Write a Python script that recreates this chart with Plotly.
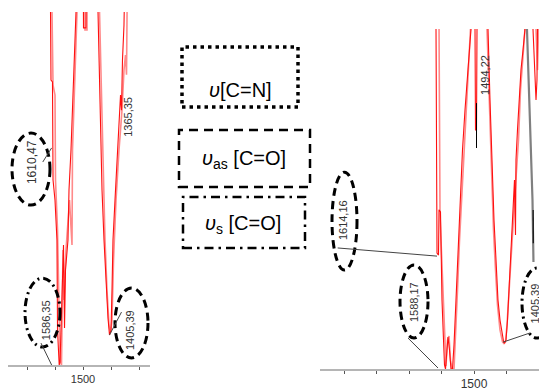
import plotly.graph_objects as go

# ---------------- data (wavenumber cm-1, relative transmittance) ----------------
# left spectrum
left_red_wn = [1771, 1618, 1616, 1614.3, 1609, 1607, 1600, 1593, 1591, 1587.5, 1585, 1582, 1578.6, 1573.2,
               1569.6, 1566, 1562.5, 1553.6, 1550, 1542.9, 1535.7, 1528.6, 1525, 1521.4, 1500, 1498.2,
               1489.3, 1487.5, 1448.2, 1446.4, 1442.9, 1437.5, 1432.1, 1425, 1417.9, 1410.7, 1405.4,
               1400, 1396.4, 1392.9, 1385.7, 1378.6, 1371.4, 1366, 1362.5, 1359, 1353.6, 1352, 1346.4, 1260]
left_red_t = [130, 130, 100, 80.7, 80.2, 52.4, 46.7, 35.4, 9.9, 0.6, 0, 0.8, 9.9, 18.4,
              34, 10.5, 26.9, 35.4, 49.6, 60.9, 77.9, 92, 100, 130, 130, 95.5,
              95.5, 130, 130, 100, 86.4, 66.6, 49.6, 35.4, 22.7, 13.3, 8.5,
              9.9, 21.2, 35.4, 46.7, 56.7, 66.6, 76.5, 72.2, 86.4, 96.3, 100, 130, 130]

left_pale_wn = [1771, 1612.5, 1610.7, 1607, 1600, 1598.2, 1591, 1585.7, 1582, 1576.8, 1575, 1571.4, 1567.9,
                1560.7, 1548.2, 1539.3, 1537.5, 1530.4, 1521.4, 1517.9, 1494.6, 1492.9, 1485.7, 1483.9,
                1442.9, 1441, 1435.7, 1428.6, 1421.4, 1414.3, 1407.1, 1401.8, 1396.4, 1391, 1382.1,
                1371.4, 1360.7, 1353.6, 1348.2, 1344.6, 1341, 1339.3, 1260]
left_pale_t = [130, 130, 100, 79.3, 76.5, 52.4, 38.2, 9.9, 1.4, 0, 9.9, 32.6, 18.4,
               32.6, 46.7, 34, 60.9, 80.7, 100, 130, 130, 94.9, 94.9, 130,
               130, 100, 80.7, 55.2, 35.4, 21.2, 11.3, 9.1, 12.7, 29.7, 46.7,
               60.9, 72.2, 83.6, 87.8, 82.2, 97.7, 130, 130]

# right spectrum
right_red_wn = [2050, 1617, 1616.9, 1615.4, 1613.8, 1609.2, 1607.7, 1603.1, 1601.5, 1598.5, 1593.8, 1590.8,
                1587.7, 1583.1, 1580, 1575.4, 1570.8, 1566.2, 1561.5, 1555.4, 1549.2, 1543.1, 1535.4,
                1527.7, 1521.5, 1515.4, 1509.2, 1507.7, 1498.5, 1496.9, 1495.4, 1492.3, 1490.8, 1489.2,
                1458.5, 1456.9, 1450.8, 1444.6, 1438.5, 1432.3, 1426.2, 1420, 1413.8, 1409.2, 1406.2,
                1401.5, 1396.9, 1392.3, 1386.2, 1380, 1375.4, 1372.3, 1370.8, 1366.2, 1361.5, 1355.4,
                1349.2, 1343.1, 1341.5, 1320, 1318.5, 1312.3, 1309.2, 1306.2, 1303.1, 1301.5, 1286.2,
                1284.6, 1283.1, 1281.5, 1280, 1275]
right_red_t = [130, 130, 100, 65.9, 34.1, 33.5, 46.8, 46.2, 32.1, 20.3, 8.5, 1.2,
               0, 7.1, 9.4, 5.6, 0, 0, 7.1, 20.3, 35, 49.7, 64.4,
               76.2, 85, 93.8, 100, 130, 130, 100, 70.3, 70.3, 100, 130,
               130, 100, 79.1, 58.5, 43.8, 32.1, 20.3, 14.4, 10, 8.2, 7.6,
               8.5, 14.4, 23.2, 35, 46.8, 55.6, 39.4, 61.5, 70.3, 79.1, 88,
               93.8, 100, 130, 130, 100, 85, 79.1, 85, 100, 130, 130,
               100, 94.7, 100, 130, 130]

right_pale_wn = [2050, 1609.2, 1604.6, 1598.5, 1592.3, 1586.2, 1581.5, 1576.9, 1572.3, 1567.7, 1561.5,
                 1556.9, 1550.8, 1544.6, 1536.9, 1529.2, 1523.1, 1516.9, 1510.8, 1509.2, 1461.5, 1460,
                 1452.3, 1446.2, 1440, 1433.8, 1427.7, 1420, 1412.3, 1407.7, 1403.1, 1398.5, 1392.3,
                 1384.6, 1376.9, 1369.2, 1363.1, 1356.9, 1350.8, 1346.2, 1343.1, 1341.5, 1310.8,
                 1309.2, 1304.6, 1301.5, 1300, 1275]
right_pale_t = [130, 130, 45.3, 30.6, 11.5, 0.9, 8.5, 9.7, 2.6, 0, 0,
                8.5, 23.2, 37.9, 52.6, 67.3, 79.1, 88, 100, 130, 130, 100,
                76.2, 55.6, 40.9, 29.1, 18.8, 11.5, 8, 7.5, 8, 12.9, 21.8,
                33.5, 46.8, 58.5, 67.3, 82.1, 90.9, 96.8, 100, 130, 130,
                100, 87.9, 100, 130, 130]

right_grey_wn = [1337, 1330.8, 1324.6, 1320, 1317]
right_grey_t = [100, 79.1, 58.5, 49.7, 31.5]
right_black_wn = [1318, 1317.5]
right_black_t = [46.8, 37]

left_ticks = [1300, 1400, 1500, 1600, 1700]
right_ticks = [1300, 1400, 1500, 1600, 1700, 1800, 1900]
labelled_ticks = [1500]

# peak labels: (text, wn, t, font size)
left_labels = [("1610,47", 1682, 57.5, 12), ("1365,35", 1339.3, 70.3, 11),
               ("1586,35", 1632, 12.7, 11), ("1405,39", 1332, 9.9, 11)]
right_labels = [("1614,16", 1903, 43.8, 11), ("1588,17", 1684.6, 19.7, 11),
                ("1405,39", 1311, 19.4, 11), ("1494,22", 1466.2, 86.5, 11)]

# ellipses: (wn0, wn1, t0, t1, dash)
DASH = "8px,5px"
DASHDOT = "8px,4px,2px,4px"
left_ellipses = [(1753.6, 1617.9, 45.3, 65.7, DASH), (1707.1, 1582.1, 5.1, 24.6, DASHDOT),
                 (1385.7, 1267.9, 2.0, 21.8, DASH)]
right_ellipses = [(1936.9, 1860, 29.1, 57.9, DASH), (1727.7, 1641.5, 9.1, 30.6, DASH),
                  (1352.3, 1260, 9.1, 29.7, DASHDOT)]

# leader lines: (wn0, t0, wn1, t1)
left_leaders = [(1643.7, 57.5, 1612, 61.5), (1650, 6.2, 1612, 0), (1405.4, 8.5, 1362.5, 15)]
right_leaders = [(1919.4, 35.6, 1613.8, 33.2), (1703.1, 9.1, 1610.8, 0.3), (1410.8, 7.9, 1327.7, 10.6)]

# page body has an 8px margin: the figure starts at (8, 8) of the window
OFF = 8
W, H = 547 - OFF, 391 - OFF


def px(x):
    return (x - OFF) / W


def py(y):
    return 1 - (y - OFF) / H


fig = go.Figure()

fig.add_trace(go.Scatter(x=left_pale_wn, y=left_pale_t, mode="lines",
                         line=dict(color="#ff8a8a", width=1.6), xaxis="x", yaxis="y"))
fig.add_trace(go.Scatter(x=left_red_wn, y=left_red_t, mode="lines",
                         line=dict(color="#ff1010", width=1.1), xaxis="x", yaxis="y"))
fig.add_trace(go.Scatter(x=right_pale_wn, y=right_pale_t, mode="lines",
                         line=dict(color="#ff8a8a", width=1.6), xaxis="x2", yaxis="y2"))
fig.add_trace(go.Scatter(x=right_red_wn, y=right_red_t, mode="lines",
                         line=dict(color="#ff1010", width=1.1), xaxis="x2", yaxis="y2"))
fig.add_trace(go.Scatter(x=right_grey_wn, y=right_grey_t, mode="lines",
                         line=dict(color="#808080", width=2.2), xaxis="x2", yaxis="y2"))
fig.add_trace(go.Scatter(x=right_black_wn, y=right_black_t, mode="lines",
                         line=dict(color="#111111", width=1.2), xaxis="x2", yaxis="y2"))
# 1494 marker
fig.add_trace(go.Scatter(x=[1492.3, 1492.3], y=[78.2, 65], mode="lines",
                         line=dict(color="#000000", width=1), xaxis="x2", yaxis="y2"))

shapes = []
for (a, b, c, d, dash) in left_ellipses:
    shapes.append(dict(type="circle", xref="x", yref="y", x0=a, x1=b, y0=c, y1=d,
                       line=dict(color="black", width=3, dash=dash)))
for (a, b, c, d, dash) in right_ellipses:
    shapes.append(dict(type="circle", xref="x2", yref="y2", x0=a, x1=b, y0=c, y1=d,
                       line=dict(color="black", width=3, dash=dash)))
for (a, b, c, d) in left_leaders:
    shapes.append(dict(type="line", xref="x", yref="y", x0=a, y0=b, x1=c, y1=d,
                       line=dict(color="#444", width=1)))
for (a, b, c, d) in right_leaders:
    shapes.append(dict(type="line", xref="x2", yref="y2", x0=a, y0=b, x1=c, y1=d,
                       line=dict(color="#444", width=1)))

# legend boxes
shapes.append(dict(type="rect", xref="paper", yref="paper", x0=px(182), x1=px(298), y0=py(107), y1=py(47),
                   line=dict(color="black", width=3.5, dash="3.5px,4px")))
shapes.append(dict(type="rect", xref="paper", yref="paper", x0=px(179), x1=px(310), y0=py(187), y1=py(130),
                   line=dict(color="black", width=2.5, dash="9px,6px")))
shapes.append(dict(type="rect", xref="paper", yref="paper", x0=px(183), x1=px(305), y0=py(248), y1=py(197),
                   line=dict(color="black", width=2.5, dash="9px,5px,2.5px,5px")))

annotations = []
for (t, wn, v, fs) in left_labels:
    annotations.append(dict(text=t, x=wn, y=v, xref="x", yref="y", showarrow=False, textangle=-90,
                            font=dict(size=fs, color="#333", family="Liberation Sans, Arial")))
for (t, wn, v, fs) in right_labels:
    annotations.append(dict(text=t, x=wn, y=v, xref="x2", yref="y2", showarrow=False, textangle=-90,
                            font=dict(size=fs, color="#333", family="Liberation Sans, Arial")))

legend_texts = [("<i>υ</i>[C=N]", 240, 77), ("<i>υ</i><sub>as</sub> [C=O]", 244, 159),
                ("<i>υ</i><sub>s</sub> [C=O]", 243, 224)]
for (t, x, y) in legend_texts:
    annotations.append(dict(text=t, x=px(x), y=py(y), xref="paper", yref="paper", showarrow=False,
                            font=dict(size=20, color="black", family="Liberation Sans, Arial")))

# right axis: 1500 at x=474, 100 cm-1 per 32.5 px
R_PER_PX = 100 / 32.5
# left axis: 1500 at x=83, 100 cm-1 per 28 px
L_PER_PX = 100 / 28

fig.update_layout(
    width=W, height=H, margin=dict(l=0, r=0, t=0, b=0),
    paper_bgcolor="white", plot_bgcolor="white", showlegend=False,
    shapes=shapes, annotations=annotations,
    xaxis=dict(domain=[px(8), px(150)],
               range=[1500 + (83 - 8) * L_PER_PX, 1500 - (150 - 83) * L_PER_PX], anchor="y",
               tickvals=left_ticks, ticktext=[str(v) if v in labelled_ticks else "" for v in left_ticks],
               ticks="outside", ticklen=3, tickcolor="#555", showline=True, linecolor="#b5b5b5",
               linewidth=2, showgrid=False, zeroline=False,
               tickfont=dict(size=11, color="#333", family="Liberation Sans, Arial")),
    yaxis=dict(domain=[py(365), py(12)], range=[0, 100], visible=False, anchor="x"),
    xaxis2=dict(domain=[px(320), 1],
                range=[1500 + (474 - 320) * R_PER_PX, 1500 - (547 - 474) * R_PER_PX], anchor="y2",
                tickvals=right_ticks, ticktext=[str(v) if v in labelled_ticks else "" for v in right_ticks],
                ticks="outside", ticklen=3, tickcolor="#555", showline=True, linecolor="#b5b5b5",
                linewidth=2, showgrid=False, zeroline=False,
                tickfont=dict(size=12, color="#333", family="Liberation Sans, Arial")),
    yaxis2=dict(domain=[py(369), py(29)], range=[0, 100], visible=False, anchor="x2"),
)

fig.write_html("out.html")
